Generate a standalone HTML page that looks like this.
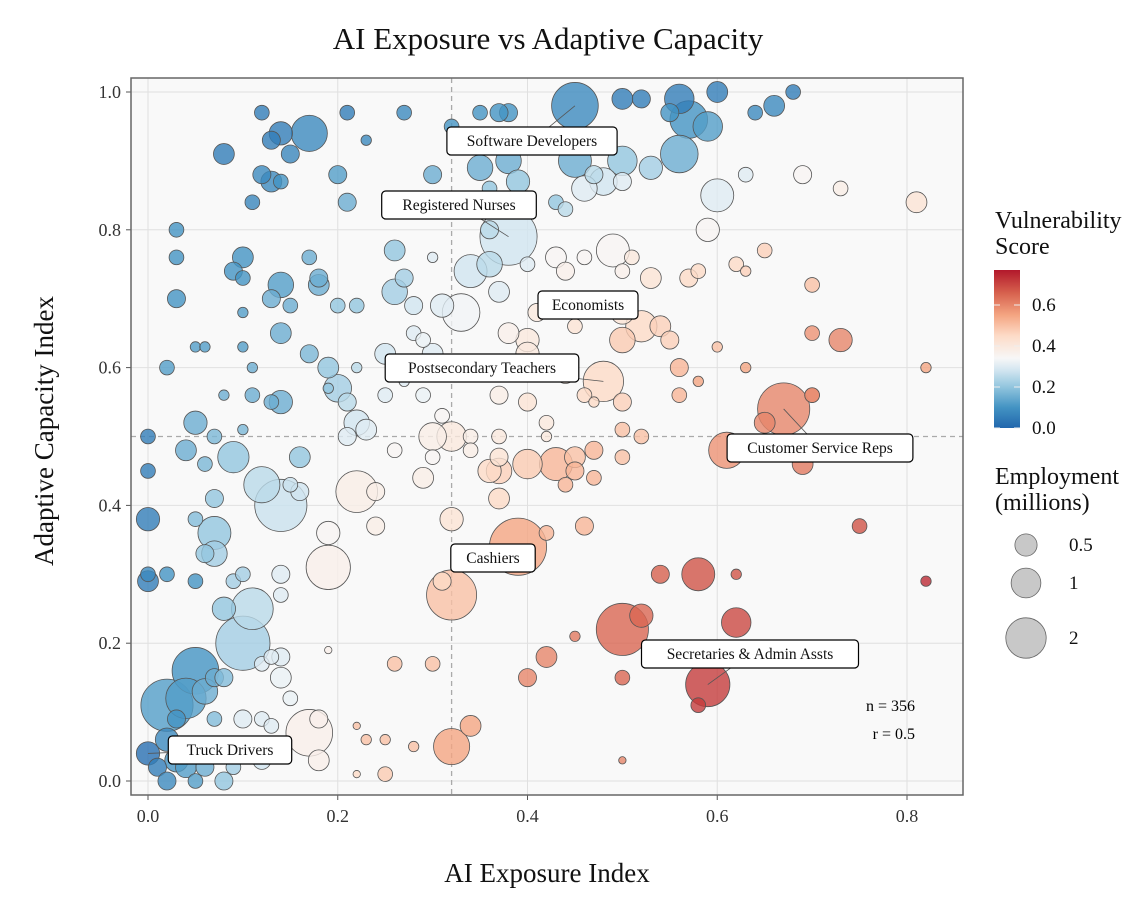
<!DOCTYPE html>
<html><head><meta charset="utf-8"><style>
body{margin:0;background:#fff;}
svg{display:block;font-family:"Liberation Serif",serif;}
</style></head><body>
<svg id="chart" width="1138" height="908"></svg>
<script>
const xs=[0.45,0.38,0.37,0.5,0.52,0.56,0.6,0.66,0.68,0.64,0.57,0.55,0.59,0.56,0.6,0.63,0.69,0.73,0.81,0.59,0.53,0.5,0.48,0.46,0.47,0.5,0.45,0.43,0.44,0.38,0.35,0.39,0.36,0.3,0.32,0.35,0.27,0.21,0.12,0.13,0.14,0.17,0.15,0.23,0.08,0.12,0.13,0.14,0.11,0.2,0.21,0.03,
0.38,0.34,0.36,0.37,0.33,0.31,0.26,0.26,0.27,0.28,0.3,0.36,0.4,0.43,0.44,0.46,0.49,0.5,0.51,0.53,0.57,0.58,0.62,0.63,0.65,0.7,0.7,0.73,0.63,0.6,0.56,0.58,0.56,0.7,0.5,0.52,0.54,0.55,0.43,0.41,0.4,0.38,0.45,0.48,0.5,0.43,0.4,0.39,0.37,0.4,0.44,0.47,0.5,0.42,0.42,0.46,
0.25,0.27,0.29,0.3,0.31,0.28,0.29,0.2,0.21,0.22,0.23,0.21,0.25,0.22,0.19,0.19,0.14,0.13,0.17,0.14,0.13,0.15,0.14,0.18,0.18,0.17,0.2,0.22,0.1,0.09,0.1,0.03,0.03,0.1,0.05,0.06,0.1,0.02,0.11,0.08,0.11,0.05,0.07,0.1,0.0,0.04,0.09,0.06,0.16,0.0,0.12,0.14,0.15,0.16,0.07,0.0,0.07,0.07,0.06,0.05,0.19,0.19,0.22,0.24,0.24,0.3,0.32,0.26,0.3,0.29,0.31,0.34,0.37,0.37,0.34,0.36,0.37,0.37,0.32,0.4,0.43,0.45,0.45,0.47,0.47,0.44,0.42,0.46,0.5,0.5,0.52,
0.61,0.67,0.65,0.69,0.7,0.75,0.82,0.82,
0.39,0.32,0.31,0.5,0.52,0.58,0.54,0.62,0.62,0.59,0.58,0.5,0.45,0.42,0.4,0.5,0.34,0.32,0.28,0.25,0.25,0.23,0.22,0.22,0.26,0.3,
0.17,0.18,0.18,0.19,0.14,0.15,0.12,0.13,0.1,0.11,0.12,0.09,0.12,0.13,0.14,0.11,0.1,0.08,0.09,0.1,0.14,0.14,0.05,0.04,0.02,0.06,0.07,0.08,0.02,0.03,0.07,0.0,0.01,0.02,0.05,0.06,0.08,0.09,0.04,0.03,0.07,0.05,0.0,0.0,0.02,0.07];
const ys=[0.98,0.97,0.97,0.99,0.99,0.99,1.0,0.98,1.0,0.97,0.96,0.97,0.95,0.91,0.85,0.88,0.88,0.86,0.84,0.8,0.89,0.9,0.87,0.86,0.88,0.87,0.9,0.84,0.83,0.9,0.89,0.87,0.86,0.88,0.95,0.97,0.97,0.97,0.97,0.93,0.94,0.94,0.91,0.93,0.91,0.88,0.87,0.87,0.84,0.88,0.84,0.8,
0.79,0.74,0.75,0.71,0.68,0.69,0.71,0.77,0.73,0.69,0.76,0.8,0.75,0.76,0.74,0.76,0.77,0.74,0.76,0.73,0.73,0.74,0.75,0.74,0.77,0.72,0.65,0.64,0.6,0.63,0.6,0.58,0.56,0.56,0.68,0.66,0.66,0.64,0.69,0.68,0.64,0.65,0.66,0.58,0.64,0.6,0.62,0.6,0.56,0.55,0.59,0.55,0.55,0.52,0.5,0.56,
0.62,0.58,0.56,0.62,0.6,0.65,0.64,0.57,0.55,0.52,0.51,0.5,0.56,0.6,0.6,0.57,0.55,0.55,0.62,0.65,0.7,0.69,0.72,0.72,0.73,0.76,0.69,0.69,0.76,0.74,0.73,0.76,0.7,0.68,0.63,0.63,0.63,0.6,0.6,0.56,0.56,0.52,0.5,0.51,0.5,0.48,0.47,0.46,0.47,0.45,0.43,0.4,0.43,0.42,0.41,0.38,0.36,0.33,0.33,0.38,0.36,0.31,0.42,0.42,0.37,0.5,0.5,0.48,0.47,0.44,0.53,0.5,0.5,0.47,0.48,0.45,0.41,0.45,0.38,0.46,0.46,0.45,0.47,0.44,0.48,0.43,0.36,0.37,0.51,0.47,0.5,
0.48,0.54,0.52,0.46,0.56,0.37,0.29,0.6,
0.34,0.27,0.29,0.22,0.24,0.3,0.3,0.3,0.23,0.14,0.11,0.15,0.21,0.18,0.15,0.03,0.08,0.05,0.05,0.06,0.01,0.06,0.08,0.01,0.17,0.17,
0.07,0.09,0.03,0.19,0.15,0.12,0.09,0.08,0.09,0.04,0.03,0.05,0.17,0.18,0.18,0.25,0.2,0.25,0.29,0.3,0.3,0.27,0.16,0.12,0.11,0.13,0.15,0.15,0.06,0.09,0.09,0.04,0.02,0.0,0.0,0.02,0.0,0.02,0.02,0.03,0.04,0.29,0.29,0.3,0.3,0.05];
const emps=[2,0.3,0.3,0.4,0.3,0.8,0.4,0.4,0.2,0.2,1.3,0.3,0.8,1.3,1.0,0.2,0.3,0.2,0.4,0.5,0.5,0.8,0.7,0.6,0.3,0.3,1.0,0.2,0.2,0.6,0.6,0.5,0.2,0.3,0.2,0.2,0.2,0.2,0.2,0.3,0.5,1.2,0.3,0.1,0.4,0.3,0.4,0.2,0.2,0.3,0.3,0.2,
3.0,1.0,0.6,0.4,1.3,0.5,0.6,0.4,0.3,0.3,0.1,0.3,0.2,0.4,0.3,0.2,1.0,0.2,0.2,0.4,0.3,0.2,0.2,0.1,0.2,0.2,0.2,0.5,0.1,0.1,0.3,0.1,0.2,0.2,0.5,0.9,0.4,0.3,0.3,0.3,0.5,0.4,0.2,1.5,0.6,0.5,0.5,0.3,0.3,0.3,0.3,0.1,0.3,0.2,0.1,0.2,
0.4,0.1,0.2,0.4,0.3,0.2,0.2,0.7,0.3,0.6,0.4,0.3,0.2,0.1,0.4,0.1,0.5,0.2,0.3,0.4,0.3,0.2,0.6,0.4,0.3,0.2,0.2,0.2,0.4,0.3,0.2,0.2,0.3,0.1,0.1,0.1,0.1,0.2,0.1,0.1,0.2,0.5,0.2,0.1,0.2,0.4,0.9,0.2,0.4,0.2,1.2,2.5,0.2,0.3,0.3,0.5,1.0,0.6,0.3,0.2,0.5,1.8,1.6,0.3,0.3,0.7,0.8,0.2,0.2,0.4,0.2,0.2,0.2,0.3,0.2,0.5,0.4,0.6,0.5,0.8,1.0,0.3,0.4,0.2,0.3,0.2,0.2,0.3,0.2,0.2,0.2,
1.2,2.5,0.4,0.4,0.2,0.2,0.1,0.1,
3.0,2.3,0.3,2.5,0.5,1.0,0.3,0.1,0.8,1.8,0.2,0.2,0.1,0.4,0.3,0.05,0.4,1.2,0.1,0.1,0.2,0.1,0.05,0.05,0.2,0.2,
2.0,0.3,0.4,0.05,0.4,0.2,0.2,0.2,0.3,0.3,0.3,0.2,0.2,0.2,0.3,1.6,2.7,0.5,0.2,0.2,0.3,0.2,2.0,1.5,2.5,0.6,0.3,0.3,0.5,0.3,0.2,0.5,0.3,0.3,0.2,0.3,0.3,0.2,0.4,0.5,0.2,0.2,0.4,0.2,0.2,0.2];
const vuln=[0.08,0.1,0.1,0.05,0.05,0.05,0.05,0.08,0.05,0.08,0.1,0.1,0.12,0.15,0.3,0.3,0.35,0.38,0.42,0.35,0.22,0.2,0.28,0.3,0.25,0.3,0.15,0.2,0.25,0.15,0.15,0.2,0.2,0.15,0.1,0.1,0.08,0.05,0.05,0.05,0.05,0.08,0.07,0.08,0.05,0.08,0.08,0.1,0.07,0.12,0.15,0.1,
0.28,0.28,0.25,0.3,0.33,0.3,0.22,0.2,0.22,0.28,0.3,0.25,0.3,0.35,0.37,0.35,0.35,0.37,0.4,0.42,0.45,0.45,0.45,0.47,0.47,0.5,0.58,0.6,0.55,0.5,0.52,0.55,0.52,0.55,0.42,0.45,0.47,0.47,0.38,0.4,0.4,0.37,0.42,0.45,0.48,0.42,0.4,0.42,0.38,0.42,0.42,0.45,0.47,0.4,0.4,0.45,
0.28,0.3,0.32,0.3,0.33,0.3,0.32,0.22,0.25,0.28,0.3,0.3,0.3,0.25,0.2,0.2,0.15,0.15,0.17,0.15,0.15,0.15,0.12,0.15,0.15,0.15,0.2,0.2,0.1,0.1,0.1,0.1,0.1,0.12,0.12,0.12,0.12,0.12,0.15,0.15,0.15,0.15,0.17,0.17,0.05,0.15,0.2,0.17,0.2,0.05,0.25,0.27,0.27,0.28,0.2,0.05,0.2,0.22,0.2,0.18,0.35,0.37,0.38,0.38,0.38,0.38,0.4,0.35,0.35,0.38,0.35,0.38,0.4,0.42,0.38,0.45,0.45,0.47,0.42,0.48,0.52,0.52,0.5,0.52,0.52,0.52,0.52,0.52,0.5,0.5,0.5,
0.58,0.6,0.6,0.62,0.6,0.68,0.75,0.55,
0.55,0.5,0.45,0.65,0.65,0.68,0.66,0.68,0.7,0.72,0.72,0.65,0.62,0.6,0.6,0.6,0.55,0.55,0.5,0.5,0.48,0.5,0.5,0.45,0.5,0.5,
0.37,0.37,0.37,0.37,0.32,0.32,0.3,0.3,0.3,0.28,0.28,0.28,0.3,0.3,0.3,0.25,0.22,0.2,0.22,0.22,0.3,0.3,0.1,0.12,0.12,0.15,0.15,0.18,0.08,0.1,0.18,0.02,0.05,0.08,0.12,0.15,0.2,0.22,0.12,0.1,0.2,0.1,0.05,0.08,0.1,0.2];
const xTicks=[0,0.2,0.4,0.6,0.8];
const yTicks=[0,0.2,0.4,0.6,0.8,1.0];
const cbTicks=[0,0.2,0.4,0.6];
const sizeLegend=[0.5,1,2];
const labels=["Software Developers","Registered Nurses","Economists","Postsecondary Teachers","Customer Service Reps","Cashiers","Secretaries & Admin Assts","Truck Drivers"];
const labelPts=[[0.45,0.98],[0.38,0.79],[0.5,0.68],[0.48,0.58],[0.67,0.54],[0.39,0.34],[0.59,0.14],[0.0,0.04]];

const svg=document.getElementById('chart');
const NS='http://www.w3.org/2000/svg';
function el(t,a,p){const e=document.createElementNS(NS,t);for(const k in a)e.setAttribute(k,a[k]);(p||svg).appendChild(e);return e;}
const X=v=>148+v*948.75, Y=v=>781-v*689;
const R=e=>16.5*Math.sqrt(e);
const stops=[[0,[33,102,172]],[0.1,[67,147,195]],[0.2,[146,197,222]],[0.28,[209,229,240]],[0.34,[247,247,247]],[0.45,[253,219,199]],[0.55,[244,165,130]],[0.66,[214,96,77]],[0.78,[178,24,43]]];
function col(v){v=Math.max(0,Math.min(0.78,v));for(let i=1;i<stops.length;i++){if(v<=stops[i][0]){const a=stops[i-1],b=stops[i],t=(v-a[0])/(b[0]-a[0]);const c=a[1].map((x,j)=>Math.round(x+(b[1][j]-x)*t));return `rgb(${c})`;}}return 'rgb(178,24,43)';}

const bg=el('rect',{x:131,y:78,width:832,height:717,fill:'#f9f9f9'});


xTicks.forEach(t=>{
  const g=el('line',{x1:X(t),x2:X(t),y1:78,y2:795,stroke:'#e0e0e0','stroke-width':1});
  
  
  el('line',{x1:X(t),x2:X(t),y1:795,y2:800,stroke:'#555'});
  const tx=el('text',{x:X(t),y:822,'text-anchor':'middle','font-size':18,fill:'#333'});tx.textContent=t.toFixed(1);
  
  
});
yTicks.forEach(t=>{
  const g=el('line',{x1:131,x2:963,y1:Y(t),y2:Y(t),stroke:'#e0e0e0','stroke-width':1});
  
  
  el('line',{x1:126,x2:131,y1:Y(t),y2:Y(t),stroke:'#555'});
  const tx=el('text',{x:121,y:Y(t)+6,'text-anchor':'end','font-size':18,fill:'#333'});tx.textContent=t.toFixed(1);
  
  
});
const vl=el('line',{x1:X(0.32),x2:X(0.32),y1:78,y2:795,stroke:'#aaa','stroke-dasharray':'5,4','stroke-width':1.3});


const hl=el('line',{x1:131,x2:963,y1:Y(0.5),y2:Y(0.5),stroke:'#aaa','stroke-dasharray':'5,4','stroke-width':1.3});



const idx=xs.map((_,i)=>i).sort((a,b)=>emps[b]-emps[a]);
idx.forEach(i=>{
  const c=el('circle',{cx:X(xs[i]),cy:Y(ys[i]),r:R(emps[i]),fill:col(vuln[i]),'fill-opacity':0.8,stroke:'#555','stroke-width':0.8});
  
  
});
const frame=el('rect',{x:131,y:78,width:832,height:717,fill:'none',stroke:'#666','stroke-width':1.5});



const boxPos=[[532,141],[459,205],[588,305],[482,368],[820,448],[493,558],[750,654],[230,750]];
labels.forEach((l,i)=>{
  const g=el('g',{});
  
  
  const [cx,cy]=boxPos[i];
  el('line',{x1:cx,y1:cy,x2:X(labelPts[i][0]),y2:Y(labelPts[i][1]),stroke:'#555','stroke-width':0.8},g);
  const w=l.length*7.8+22;
  el('rect',{x:cx-w/2,y:cy-14,width:w,height:28,rx:4,fill:'#fff',stroke:'#000','stroke-width':1.2},g);
  const t=el('text',{x:cx,y:cy+5,'text-anchor':'middle','font-size':15.5,fill:'#111'},g);t.textContent=l;
});
const n1=el('text',{x:915,y:711,'text-anchor':'end','font-size':16}); n1.textContent='n = 356';


const n2=el('text',{x:915,y:739,'text-anchor':'end','font-size':16}); n2.textContent='r = 0.5';



const title=el('text',{x:548,y:49,'text-anchor':'middle','font-size':31,fill:'#111'});title.textContent='AI Exposure vs Adaptive Capacity';


const xt=el('text',{x:547,y:882,'text-anchor':'middle','font-size':27,fill:'#111'});xt.textContent='AI Exposure Index';


const yt=el('text',{x:53,y:431,'text-anchor':'middle','font-size':27,fill:'#111',transform:'rotate(-90 53 431)'});yt.textContent='Adaptive Capacity Index';



const defs=el('defs',{});
const lg=el('linearGradient',{id:'cb',x1:0,y1:1,x2:0,y2:0},defs);
stops.forEach(s=>el('stop',{offset:(s[0]/0.77),'stop-color':`rgb(${s[1]})`},lg));
const ct=el('text',{x:995,y:228,'font-size':24,fill:'#111'});ct.textContent='Vulnerability';


const ct2=el('text',{x:995,y:254,'font-size':24,fill:'#111'});ct2.textContent='Score';
const cb=el('rect',{x:994,y:270,width:26,height:158,fill:'url(#cb)'});


cbTicks.forEach(t=>{
  const y=428-t*205;
  el('line',{x1:994,x2:1000,y1:y,y2:y,stroke:'#eee','stroke-width':1});
  el('line',{x1:1014,x2:1020,y1:y,y2:y,stroke:'#eee','stroke-width':1});
  const tx=el('text',{x:1032,y:y+6,'font-size':19,fill:'#111'});tx.textContent=t.toFixed(1);
  
  
});
const st=el('text',{x:995,y:484,'font-size':24,fill:'#111'});st.textContent='Employment';


const st2=el('text',{x:995,y:510,'font-size':24,fill:'#111'});st2.textContent='(millions)';
const legY=[545,583,638];
sizeLegend.forEach((s,i)=>{
  const c=el('circle',{cx:1026,cy:legY[i],r:R(s)*0.78+2,fill:'#c8c8c8',stroke:'#666','stroke-width':0.8});
  
  
  const t=el('text',{x:1069,y:legY[i]+6,'font-size':19,fill:'#111'});t.textContent=String(s);
});
</script>
</body></html>
